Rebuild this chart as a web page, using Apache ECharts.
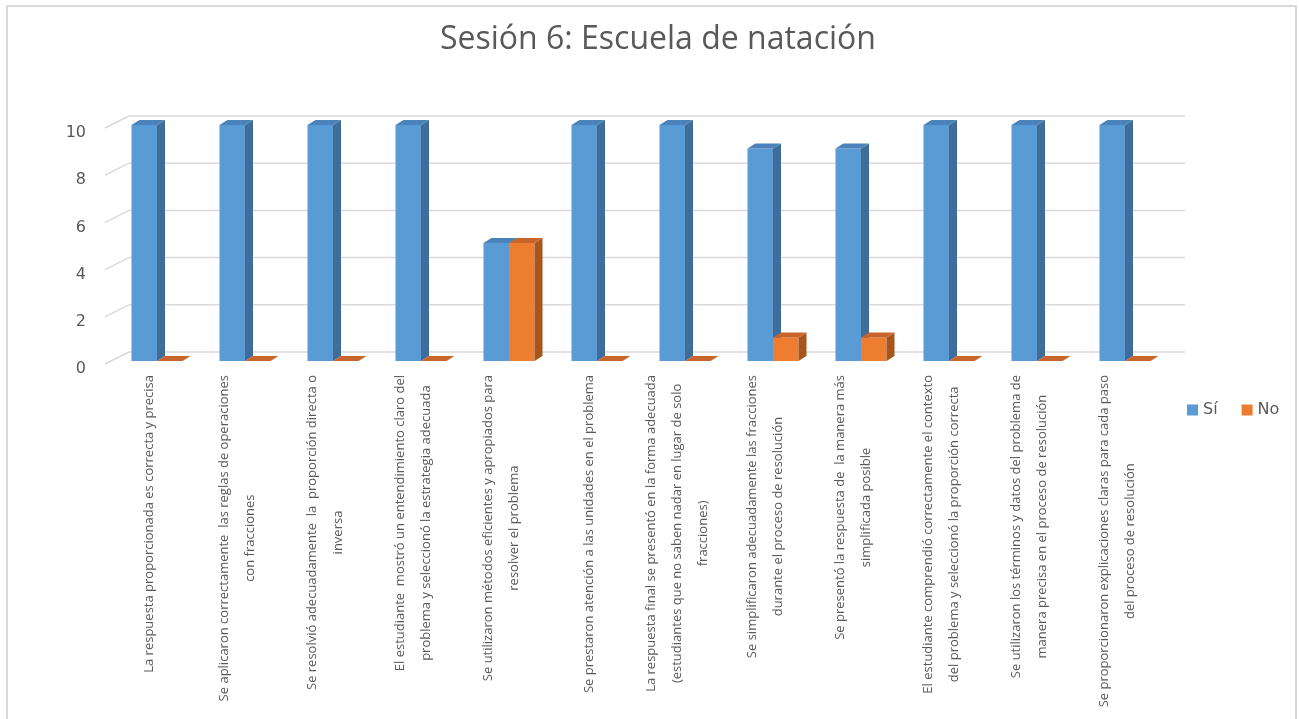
<!DOCTYPE html>
<html><head><meta charset="utf-8">
<script src="https://cdn.jsdelivr.net/npm/echarts@6/dist/echarts.min.js"></script>
<style>html,body{margin:0;padding:0;background:#fff}#c{width:1299px;height:719px}</style>
</head><body><div id="c"></div>
<script>
const chartTitle = 'Sesión 6: Escuela de natación';
const categories = [
  'La respuesta proporcionada es correcta y precisa',
  'Se aplicaron correctamente  las reglas de operaciones\ncon fracciones',
  'Se resolvió adecuadamente  la  proporción directa o\ninversa',
  'El estudiante  mostró un entendimiento claro del\nproblema y seleccionó la estrategia adecuada',
  'Se utilizaron métodos eficientes y apropiados para\nresolver el problema',
  'Se prestaron atención a las unidades en el problema',
  'La respuesta final se presentó en la forma adecuada\n(estudiantes que no saben nadar en lugar de solo\nfracciones)',
  'Se simplificaron adecuadamente las fracciones\ndurante el proceso de resolución',
  'Se presentó la respuesta de  la manera más\nsimplificada posible',
  'El estudiante comprendió correctamente el contexto\ndel problema y seleccionó la proporción correcta',
  'Se utilizaron los términos y datos del problema de\nmanera precisa en el proceso de resolución',
  'Se proporcionaron explicaciones claras para cada paso\ndel proceso de resolución'
];
const seriesNames = ['Sí', 'No'];
const siValues = [10, 10, 10, 10, 5, 10, 10, 9, 9, 10, 10, 10];
const noValues = [0, 0, 0, 0, 5, 0, 0, 1, 1, 0, 0, 0];
const yTicks = [0, 2, 4, 6, 8, 10];

// styling constants
const COLORS = [
  {front: '#5B9BD5', side: '#3E6D99', top: '#4B82BA'},
  {front: '#ED7D31', side: '#A8561F', top: '#C8652A'}
];
const DX = 8, DY = -5;          // bar depth
const WALL_DX = 16, WALL_DY = -9; // back wall offset
const TICK_DX = -24, TICK_DY = 12;
const BAR_FRAC = 0.29;
const GRID_COLOR = '#d9d9d9';

function bar3d(side) {
  return function (params, api) {
    const i = api.value(0), v = api.value(1);
    const top = api.coord([i, v]), base = api.coord([i, 0]);
    const band = api.size([1, 0])[0];
    const bw = band * BAR_FRAC;
    const x0 = side === 0 ? top[0] - bw : top[0];
    const x1 = x0 + bw;
    const yT = top[1], yB = base[1];
    const c = COLORS[side];
    return {type: 'group', children: [
      {type: 'rect', shape: {x: x0, y: yT, width: bw, height: yB - yT}, style: {fill: c.front}},
      {type: 'polygon', shape: {points: [[x1, yT], [x1 + DX, yT + DY], [x1 + DX, yB + DY], [x1, yB]]}, style: {fill: c.side}},
      {type: 'polygon', shape: {points: [[x0, yT], [x1, yT], [x1 + DX, yT + DY], [x0 + DX, yT + DY]]}, style: {fill: c.top}}
    ]};
  };
}

function wallLine(params, api) {
  const v = api.value(1);
  const band = api.size([1, 0])[0];
  const pL = api.coord([0, v]);
  const pR = api.coord([categories.length - 1, v]);
  const xl = pL[0] - band / 2 + WALL_DX;
  const xr = pR[0] + band / 2 + WALL_DX;
  const y = pL[1] + WALL_DY;
  const st = {stroke: GRID_COLOR, lineWidth: 1.5, fill: null};
  return {type: 'group', children: [
    {type: 'line', shape: {x1: xl, y1: y, x2: xr, y2: y}, style: st},
    {type: 'line', shape: {x1: xl, y1: y, x2: xl + TICK_DX, y2: y + TICK_DY}, style: st}
  ]};
}

const chart = echarts.init(document.getElementById('c'), null, {renderer: 'canvas'});
chart.setOption({
  backgroundColor: '#ffffff',
  animation: false,
  graphic: [{type: 'rect', shape: {x: 7, y: 6, width: 1289, height: 740}, style: {fill: null, stroke: '#d9d9d9', lineWidth: 2}, silent: true}],
  title: {
    text: chartTitle, left: 440, top: 24, padding: 0,
    textStyle: {fontFamily: 'Open Sans', fontSize: 32, fontWeight: 'normal', color: '#595959'}
  },
  legend: {
    data: seriesNames, left: 1187, top: 402, padding: 0, itemWidth: 11, itemHeight: 11, itemGap: 24, icon: 'rect',
    textStyle: {fontFamily: 'DejaVu Sans', fontSize: 16, color: '#595959'}
  },
  grid: {left: 113, right: 130, top: 125, bottom: 358, containLabel: false},
  xAxis: {
    type: 'category', data: categories,
    axisLine: {show: false}, axisTick: {show: false}, splitLine: {show: false},
    axisLabel: {
      interval: 0, rotate: 90, margin: 14, padding: [0, 0, 16, 0],
      formatter: function (val) { return val.split('\n').map(function (s) { return '{c|' + s + '}'; }).join('\n'); },
      rich: {c: {align: 'center', fontFamily: 'Open Sans', fontSize: 13, lineHeight: 26, color: '#595959'}}
    }
  },
  yAxis: {
    type: 'value', min: 0, max: 10, interval: 2,
    axisLine: {show: false}, axisTick: {show: false}, splitLine: {show: false},
    axisLabel: {margin: 27, verticalAlign: 'top', lineHeight: 16, fontFamily: 'DejaVu Sans', fontSize: 16, color: '#595959'}
  },
  series: [
    {type: 'custom', name: 'walls', silent: true, z: 1, renderItem: wallLine,
     data: yTicks.map(function (v) { return [0, v]; })},
    {type: 'custom', name: seriesNames[0], z: 2, itemStyle: {color: COLORS[0].front}, renderItem: bar3d(0),
     data: siValues.map(function (v, i) { return [i, v]; })},
    {type: 'custom', name: seriesNames[1], z: 3, itemStyle: {color: COLORS[1].front}, renderItem: bar3d(1),
     data: noValues.map(function (v, i) { return [i, v]; })}
  ]
});
</script>
</body></html>
